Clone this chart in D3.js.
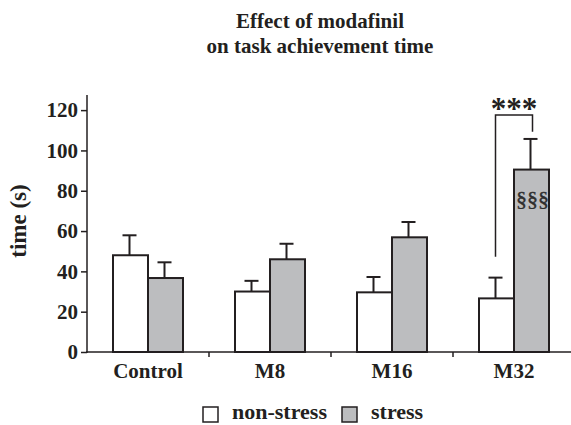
<!DOCTYPE html>
<html>
<head>
<meta charset="utf-8">
<script src="https://cdn.jsdelivr.net/npm/d3@7"></script>
<style>
  body { margin: 0; background: #fff; }
  text { font-family: "Liberation Serif", "Times New Roman", serif; }
</style>
</head>
<body>
<div id="chart"></div>
<script>
const categories = ["Control", "M8", "M16", "M32"];
const series = ["non-stress", "stress"];
const nonStress = [48, 30, 29.6, 26.6];
const nonStressErr = [9.9, 5.3, 7.6, 10.3];
const stress = [36.7, 46, 56.9, 90.5];
const stressErr = [7.8, 7.7, 7.6, 15.2];
const yTicks = [0, 20, 40, 60, 80, 100, 120];
const colors = {"non-stress": "#ffffff", "stress": "#bcbdbf"};

const width = 571, height = 425;
const ink = "#231f20";
const svg = d3.select("#chart").append("svg").attr("width", width).attr("height", height);

const x = d3.scaleBand().domain(categories).range([87, 575]);
const xs = d3.scaleBand().domain(series).range([-35, 35]);
const y = d3.scaleLinear().domain([0, 127.5]).range([352, 95]);

const rows = [];
categories.forEach((c, i) => {
  rows.push({cat: c, s: "non-stress", v: nonStress[i], e: nonStressErr[i]});
  rows.push({cat: c, s: "stress", v: stress[i], e: stressErr[i]});
});
const cx = d => x(d.cat) + x.bandwidth() / 2 + xs(d.s);
const mid = d => cx(d) + xs.bandwidth() / 2 - 1;

// error bars
const eb = svg.append("g").attr("stroke", ink).attr("stroke-width", 2);
rows.forEach(d => {
  eb.append("line").attr("x1", mid(d)).attr("x2", mid(d)).attr("y1", y(d.v)).attr("y2", y(d.v + d.e));
  eb.append("line").attr("x1", mid(d) - 7).attr("x2", mid(d) + 7).attr("y1", y(d.v + d.e)).attr("y2", y(d.v + d.e));
});

// bars
svg.append("g").selectAll("rect").data(rows).enter().append("rect")
  .attr("x", d => cx(d))
  .attr("y", d => y(d.v))
  .attr("width", xs.bandwidth())
  .attr("height", d => y(0) - y(d.v))
  .attr("fill", d => colors[d.s])
  .attr("stroke", ink)
  .attr("stroke-width", 2);

// y axis
const ya = svg.append("g").attr("transform", "translate(87,0)")
  .call(d3.axisLeft(y).tickValues(yTicks).tickSize(6).tickSizeOuter(0).tickPadding(3));
ya.select(".domain").remove();
ya.selectAll(".tick line").attr("stroke", ink).attr("stroke-width", 1.5);
ya.selectAll(".tick text").attr("font-size", 21).attr("font-weight", "bold")
  .attr("font-family", "Liberation Serif").attr("fill", ink);
svg.append("line").attr("x1", 87).attr("x2", 87).attr("y1", y(127.5)).attr("y2", y(0) + 1)
  .attr("stroke", ink).attr("stroke-width", 1.5);

// x axis
const xa = svg.append("g").attr("transform", `translate(0,${y(0)})`)
  .call(d3.axisBottom(x).tickSize(0).tickPadding(11).tickSizeOuter(0));
xa.select(".domain").remove();
xa.selectAll(".tick text").attr("font-size", 21).attr("font-weight", "bold")
  .attr("font-family", "Liberation Serif").attr("fill", ink);
svg.append("line").attr("x1", 86).attr("x2", 571).attr("y1", y(0)).attr("y2", y(0))
  .attr("stroke", ink).attr("stroke-width", 1.5);
categories.slice(1).forEach(c => {
  svg.append("line").attr("x1", x(c)).attr("x2", x(c)).attr("y1", y(0)).attr("y2", y(0) + 5)
    .attr("stroke", ink).attr("stroke-width", 1.5);
});

// y label
svg.append("text").attr("transform", "translate(26,221) rotate(-90)")
  .attr("text-anchor", "middle").attr("font-size", 23).attr("font-weight", "bold")
  .attr("fill", ink).text("time (s)");

// title
svg.append("text").attr("x", 320).attr("y", 28).attr("text-anchor", "middle")
  .attr("font-size", 21).attr("font-weight", "bold").attr("fill", ink).text("Effect of modafinil");
svg.append("text").attr("x", 320).attr("y", 53).attr("text-anchor", "middle")
  .attr("font-size", 21).attr("font-weight", "bold").attr("fill", ink).text("on task achievement time");

// significance bracket for M32
const last = categories.length - 1;
const wx = mid(rows[last * 2]);
const sx = mid(rows[last * 2 + 1]) + 2;
svg.append("path")
  .attr("d", `M${wx},${y(47.3)} V${y(117.6)} H${sx} V${y(109.3)}`)
  .attr("fill", "none").attr("stroke", ink).attr("stroke-width", 1.5);
svg.append("text").attr("x", (wx + sx) / 2).attr("y", 119).attr("text-anchor", "middle")
  .attr("font-size", 31).attr("font-weight", "bold").attr("fill", ink).text("***");
svg.append("text").attr("x", mid(rows[last * 2 + 1]) + 2).attr("y", 206)
  .attr("text-anchor", "middle").attr("font-size", 22).attr("fill", "#2e2e2e")
  .attr("stroke", "#2e2e2e").attr("stroke-width", 0.4).text("§§§");

// legend
const lg = svg.append("g");
const lx = [203, 342];
series.forEach((s, i) => {
  lg.append("rect").attr("x", lx[i]).attr("y", 407).attr("width", 15).attr("height", 15)
    .attr("fill", colors[s]).attr("stroke", ink).attr("stroke-width", 1.5);
  lg.append("text").attr("x", lx[i] + 29).attr("y", 419).attr("font-size", 22)
    .attr("font-weight", "bold").attr("fill", ink).text(s);
});
</script>
</body>
</html>
